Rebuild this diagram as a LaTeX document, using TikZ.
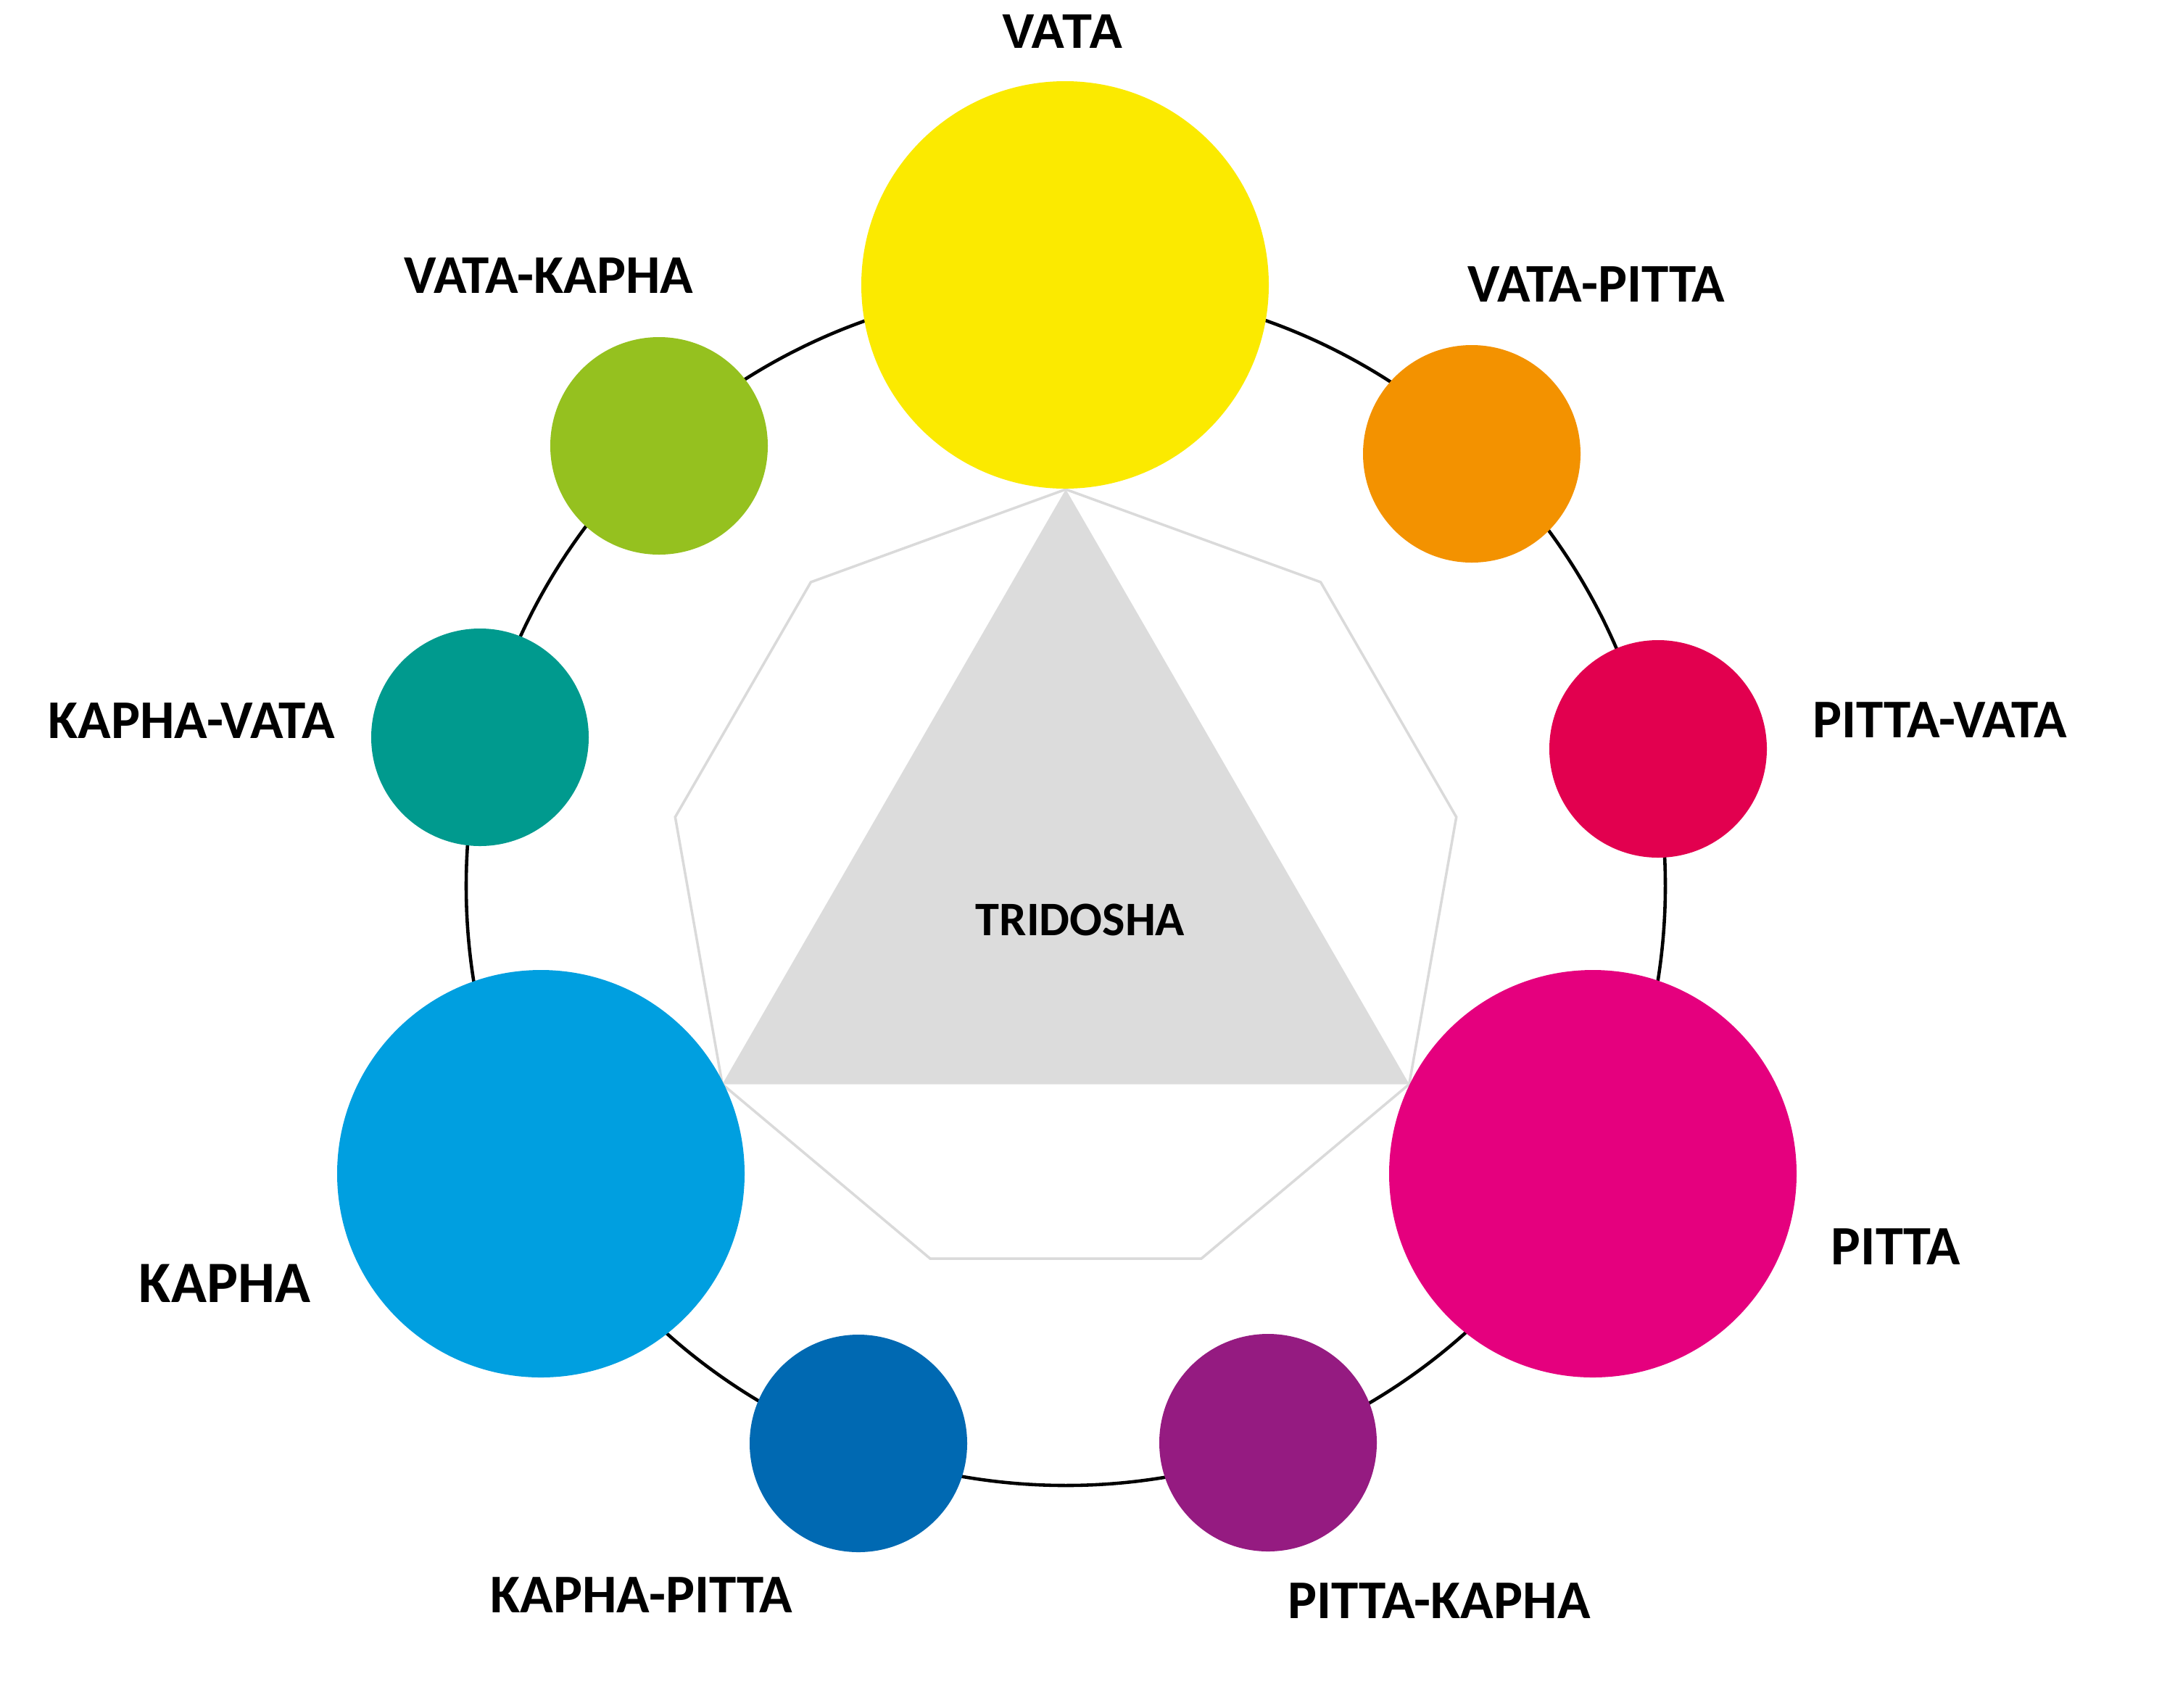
\documentclass[tikz,border=0pt]{standalone}
\usepackage{fontspec}
\setmainfont{Carlito}
\newfontfamily\arialfont{Liberation Sans}
\definecolor{cvata}{HTML}{FBEA00}
\definecolor{cvp}{HTML}{F39200}
\definecolor{cpv}{HTML}{E2004F}
\definecolor{cpitta}{HTML}{E5007E}
\definecolor{cpk}{HTML}{951B81}
\definecolor{ckp}{HTML}{0069B2}
\definecolor{ckapha}{HTML}{009FE0}
\definecolor{ckv}{HTML}{009A8E}
\definecolor{cvk}{HTML}{95C11F}
\definecolor{trigray}{HTML}{DCDCDC}
\definecolor{nonagray}{HTML}{DADADA}
\tikzset{
  bigdot/.style={circle, inner sep=0pt, minimum size=5.62cm, draw=none},
  smalldot/.style={circle, inner sep=0pt, minimum size=3.0cm, draw=none},
  lbl/.style={inner sep=0pt, font=\bfseries\fontsize{21.4pt}{24pt}\selectfont},
}
\begin{document}
\begin{tikzpicture}
\fill[white] (0,0) rectangle (30,-23.55);
\useasboundingbox (0,0) rectangle (30,-23.55);
\coordinate (c) at (14.70,-12.22);
% ring
\draw[black, line width=1.3pt] (c) circle (8.27);
% nonagon
\draw[nonagray, line width=1pt, shift={(c)}]
  (90:5.47) -- (50:5.47) -- (10:5.47) -- (-30:5.47) -- (-70:5.47)
  -- (-110:5.47) -- (-150:5.47) -- (170:5.47) -- (130:5.47) -- cycle;
% triangle
\fill[trigray, shift={(c)}] (90:5.47) -- (-30:5.47) -- (-150:5.47) -- cycle;
% circles
\node[bigdot, fill=cvata] (vata) at (14.69,-3.93) {};
\node[smalldot, fill=cvp] (vp) at (20.30,-6.26) {};
\node[smalldot, fill=cpv] (pv) at (22.87,-10.33) {};
\node[bigdot, fill=cpitta] (pitta) at (21.97,-16.19) {};
\node[smalldot, fill=cpk] (pk) at (17.49,-19.90) {};
\node[smalldot, fill=ckp] (kp) at (11.84,-19.91) {};
\node[bigdot, fill=ckapha] (kapha) at (7.46,-16.19) {};
\node[smalldot, fill=ckv] (kv) at (6.62,-10.17) {};
\node[smalldot, fill=cvk] (vk) at (9.09,-6.15) {};
% labels
\node[inner sep=0pt, font=\arialfont\bfseries\fontsize{19.1pt}{22pt}\selectfont] (lvata) at (14.66,-0.43) {VATA};
\node[lbl] (lvp) at (22.02,-3.92) {VATA-PITTA};
\node[lbl] (lpv) at (26.76,-9.93) {PITTA-VATA};
\node[lbl, font=\bfseries\fontsize{21.8pt}{24pt}\selectfont] (lpitta) at (26.15,-17.20) {PITTA};
\node[lbl] (lpk) at (19.85,-22.08) {PITTA-KAPHA};
\node[lbl] (lkp) at (8.85,-22.00) {KAPHA-PITTA};
\node[lbl, font=\bfseries\fontsize{23pt}{26pt}\selectfont] (lkapha) at (3.10,-17.70) {KAPHA};
\node[lbl] (lkv) at (2.64,-9.94) {KAPHA-VATA};
\node[lbl] (lvk) at (7.57,-3.80) {VATA-KAPHA};
\node[lbl, font=\bfseries\fontsize{18.9pt}{22pt}\selectfont] (ltri) at (14.90,-12.69) {TRIDOSHA};
\end{tikzpicture}
\end{document}
